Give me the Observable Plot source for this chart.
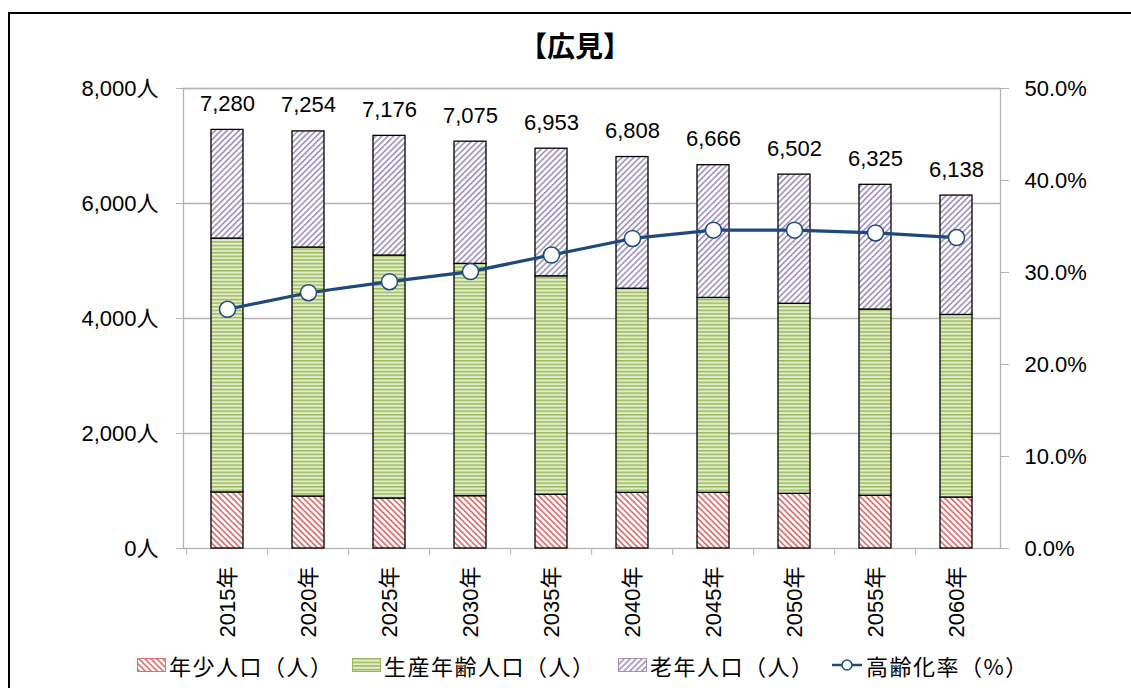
<!DOCTYPE html>
<html><head><meta charset="utf-8">
<script src="https://cdn.jsdelivr.net/npm/d3@7"></script>
<script src="https://cdn.jsdelivr.net/npm/@observablehq/plot@0.6"></script>
<style>
html,body{margin:0;padding:0;background:#fff;overflow:hidden;}
#wrap{position:relative;width:1131px;height:688px;overflow:hidden;font-family:"Liberation Sans","Noto Sans CJK JP",sans-serif;color:#000;}
#frame{position:absolute;left:8px;top:12px;width:1140px;height:700px;border:2px solid #000;box-sizing:border-box;}
#title{position:absolute;left:0;width:1150px;top:28px;text-align:center;font-size:28px;font-weight:bold;font-family:"Noto Sans CJK JP",sans-serif;line-height:34px;}
#chart{position:absolute;left:0;top:0;}
#legend{position:absolute;top:650px;left:0;width:1131px;height:30px;font-size:22px;font-family:"Noto Sans CJK JP",sans-serif;letter-spacing:1.5px;}
.item{position:absolute;top:0;display:flex;align-items:center;height:30px;white-space:nowrap;}
.item svg{margin-right:2px;}
</style></head><body>
<div id="wrap">
  <div id="frame"></div>
  <div id="chart"></div>
  <div id="title"></div>
  <div id="legend"></div>
</div>
<script>
const title = "【広見】";
const years = ["2015年","2020年","2025年","2030年","2035年","2040年","2045年","2050年","2055年","2060年"];
const totals = [7280, 7254, 7176, 7075, 6953, 6808, 6666, 6502, 6325, 6138];
const young = [975, 904, 870, 910, 934, 968, 968, 951, 916, 887];
const productive = [4415, 4330, 4225, 4040, 3800, 3550, 3390, 3305, 3240, 3175];
const elderly = [1890, 2020, 2081, 2125, 2219, 2290, 2308, 2246, 2169, 2076];
const rates = [26.0, 27.8, 29.0, 30.1, 31.9, 33.7, 34.6, 34.6, 34.3, 33.8];
const groups = ["年少人口（人）", "生産年齢人口（人）", "老年人口（人）"];
const lineName = "高齢化率（%）";
const leftTicks = [0, 2000, 4000, 6000, 8000];
const rightTicks = [0, 10, 20, 30, 40, 50];
const yMax = 8000, rateMax = 50;

const patternIds = ["pYoung", "pProd", "pOld"];
const lineColor = "#1f497d";
const gridColor = "#b3b3b3";

const data = [];
years.forEach((yr, i) => {
  data.push({year: yr, group: groups[0], value: young[i]});
  data.push({year: yr, group: groups[1], value: productive[i]});
  data.push({year: yr, group: groups[2], value: elderly[i]});
});
const fmt = d3.format(",");
const rateToY = r => r / rateMax * yMax;

const W = 1131, H = 645, mL = 183, mR = 131, mT = 88, mB = 97;
const step = (W - mL - mR) / years.length;

const chart = Plot.plot({
  width: W, height: H,
  marginTop: mT, marginBottom: mB, marginLeft: mL, marginRight: mR,
  style: {fontFamily: '"Liberation Sans","Noto Sans CJK JP",sans-serif', fontSize: "22px", color: "#000", background: "transparent", overflow: "visible"},
  x: {domain: years, paddingInner: 0.6, paddingOuter: 0.3, label: null},
  y: {domain: [0, yMax], label: null},
  color: {domain: groups, range: patternIds.map(id => `url(#${id})`)},
  marks: [
    Plot.gridY({ticks: leftTicks.filter(d => d > 0), stroke: gridColor, strokeOpacity: 1, strokeWidth: 1.3}),
    Plot.frame({stroke: gridColor, strokeWidth: 1.3}),
    Plot.axisY({ticks: leftTicks, tickSize: 7, tickPadding: 18, tickFormat: d => fmt(d) + "人", stroke: gridColor, fill: "#000", fontSize: 22, label: null}),
    Plot.axisY({anchor: "right", ticks: rightTicks.map(rateToY), tickSize: 8, tickPadding: 16, tickFormat: d => (d / yMax * rateMax).toFixed(1) + "%", stroke: gridColor, fill: "#000", fontSize: 22, label: null}),
    Plot.axisX({tickSize: 7, tickFormat: () => "", dx: -step / 2, stroke: gridColor, label: null}),
    Plot.axisX({tickSize: 0, tickPadding: 18, tickRotate: -90, fill: "#000", fontSize: 22, label: null}),
    Plot.barY(data, {x: "year", y: "value", fill: "group", stroke: "#000", strokeWidth: 1.3}),
    Plot.text(years, {x: d => d, y: (d, i) => totals[i], text: (d, i) => fmt(totals[i]), dy: -26, lineAnchor: "middle", fontSize: 22, fill: "#000"}),
    Plot.line(years, {x: d => d, y: (d, i) => rateToY(rates[i]), stroke: lineColor, strokeWidth: 3.2}),
    Plot.dot(years, {x: d => d, y: (d, i) => rateToY(rates[i]), r: 8, fill: "#fff", stroke: lineColor, strokeWidth: 1.5})
  ]
});

const defs = `<defs>
<pattern id="pYoung" patternUnits="userSpaceOnUse" width="4.2" height="4.2" patternTransform="rotate(-45)">
  <rect width="4.2" height="4.2" fill="#fff"/><rect width="1.7" height="4.2" fill="#e36f6f"/></pattern>
<pattern id="pProd" patternUnits="userSpaceOnUse" width="4" height="3.6">
  <rect width="4" height="3.6" fill="#e2ebcc"/><rect width="4" height="1.5" fill="#9bbb59"/></pattern>
<pattern id="pOld" patternUnits="userSpaceOnUse" width="4.2" height="4.2" patternTransform="rotate(45)">
  <rect width="4.2" height="4.2" fill="#fff"/><rect width="1.6" height="4.2" fill="#a08fc4"/></pattern>
</defs>`;
chart.insertAdjacentHTML("afterbegin", defs);
document.getElementById("chart").appendChild(chart);
document.getElementById("title").textContent = title;

// legend
const legend = document.getElementById("legend");
const legendLeft = [137, 352, 618, 832];
const swatchStroke = ["#e36f6f", "#9bbb59", "#a08fc4"];
groups.forEach((g, i) => {
  const item = document.createElement("div");
  item.className = "item";
  item.style.left = legendLeft[i] + "px";
  item.innerHTML = `<svg width="30" height="15"><rect x="0.5" y="0.5" width="28" height="13" fill="url(#${patternIds[i]})" stroke="${swatchStroke[i]}" stroke-width="1"/></svg><span>${g}</span>`;
  legend.appendChild(item);
});
const li = document.createElement("div");
li.className = "item";
li.style.left = legendLeft[3] + "px";
li.innerHTML = `<svg width="32" height="16"><line x1="0" y1="8" x2="30" y2="8" stroke="${lineColor}" stroke-width="2.5"/><circle cx="15" cy="8" r="5" fill="#fff" stroke="${lineColor}" stroke-width="1.5"/></svg><span>${lineName}</span>`;
legend.appendChild(li);
</script>
</body></html>
